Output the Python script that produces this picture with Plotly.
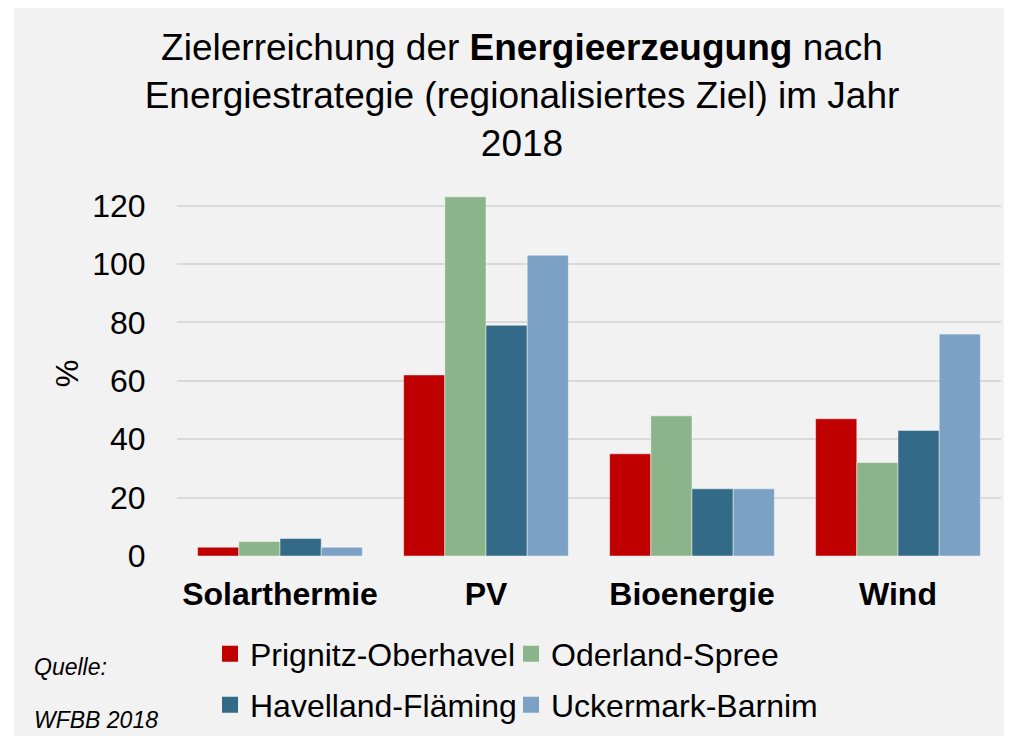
import plotly.graph_objects as go

categories = ["Solarthermie", "PV", "Bioenergie", "Wind"]
series_names = ["Prignitz-Oberhavel", "Oderland-Spree", "Havelland-Fläming", "Uckermark-Barnim"]
prignitz = [3, 62, 35, 47]
oderland = [5, 123, 48, 32]
havelland = [6, 79, 23, 43]
uckermark = [3, 103, 23, 76]
colors = ["#c00000", "#8cb48a", "#336a87", "#7ba2c4"]
y_ticks = [0, 20, 40, 60, 80, 100, 120]

W, H = 1012, 736
# page is drawn with an 8px body offset; values below are in figure coordinates
L, R, T, B = 169, 19, 183, 188
FONT = "Liberation Sans, Arial, sans-serif"

fig = go.Figure()
all_vals = [prignitz, oderland, havelland, uckermark]
for name, vals, col in zip(series_names, all_vals, colors):
    fig.add_trace(go.Bar(
        x=categories, y=vals, name=name, showlegend=False,
        marker=dict(color=col, line=dict(color="rgba(255,255,255,0.45)", width=1)),
    ))

# legend entries: one legend per entry, laid out as a 2x2 grid
legend_ids = ["legend", "legend2", "legend3", "legend4"]
for name, col, lid in zip(series_names, colors, legend_ids):
    fig.add_trace(go.Scatter(
        x=[None], y=[None], mode="markers", name=name,
        marker=dict(symbol="square", size=17, color=col, line=dict(width=0)),
        legend=lid,
    ))

pw = W - L - R
ph = H - T - B

def px_to_paper_x(px):
    return (px - L) / pw

def px_to_paper_y(py):
    return (H - B - py) / ph

# thin white strip on the left edge of the panel
fig.add_shape(type="rect", xref="paper", yref="paper", layer="below",
              x0=px_to_paper_x(-5), x1=px_to_paper_x(6),
              y0=px_to_paper_y(H + 5), y1=px_to_paper_y(-5),
              fillcolor="#ffffff", line=dict(width=0))

fig.add_annotation(text="<i>Quelle:</i>", xref="paper", yref="paper",
                   x=px_to_paper_x(24), y=px_to_paper_y(659), xanchor="left", yanchor="middle",
                   showarrow=False, font=dict(family=FONT, size=23, color="#000000"))
fig.add_annotation(text="<i>WFBB 2018</i>", xref="paper", yref="paper",
                   x=px_to_paper_x(24), y=px_to_paper_y(712), xanchor="left", yanchor="middle",
                   showarrow=False, font=dict(family=FONT, size=23, color="#000000"))

legend_common = dict(orientation="h", xref="container", yref="container",
                     xanchor="left", yanchor="middle",
                     font=dict(family=FONT, size=32, color="#000000"),
                     bgcolor="rgba(0,0,0,0)", borderwidth=0, itemclick=False)

col_x = [202, 503]
row_y = [646, 697]
legend_layout = {}
for k, lid in enumerate(legend_ids):
    legend_layout[lid] = dict(x=col_x[k % 2] / W, y=1 - row_y[k // 2] / H, **legend_common)

fig.update_layout(
    width=W, height=H,
    margin=dict(l=L, r=R, t=T, b=B, autoexpand=False),
    paper_bgcolor="#f2f2f2",
    plot_bgcolor="#f2f2f2",
    barmode="group", bargap=0.2, bargroupgap=0,
    font=dict(family=FONT, color="#000000"),
    title=dict(
        text="Zielerreichung der <b>Energieerzeugung</b> nach<br>Energiestrategie (regionalisiertes Ziel) im Jahr<br>2018",
        x=514 / W, xanchor="center", xref="container",
        y=1 - 52 / H, yanchor="top", yref="container",
        font=dict(family=FONT, size=37, color="#000000"),
    ),
    xaxis=dict(
        showgrid=False, zeroline=False, showline=False,
        ticks="outside", ticklen=10, tickcolor="rgba(0,0,0,0)",
        tickfont=dict(family=FONT, size=32, color="#000000", weight="bold"),
    ),
    yaxis=dict(
        range=[0, 125], tickvals=y_ticks, ticktext=[str(v) for v in y_ticks],
        showgrid=True, gridcolor="#d9d9d9", gridwidth=1.5,
        zeroline=False, showline=False,
        ticks="outside", ticklen=24, tickcolor="rgba(0,0,0,0)",
        tickfont=dict(family=FONT, size=32, color="#000000"),
        title=dict(text="%", font=dict(family=FONT, size=31, color="#000000"), standoff=4),
    ),
    **legend_layout,
)

fig.write_html("out.html")
